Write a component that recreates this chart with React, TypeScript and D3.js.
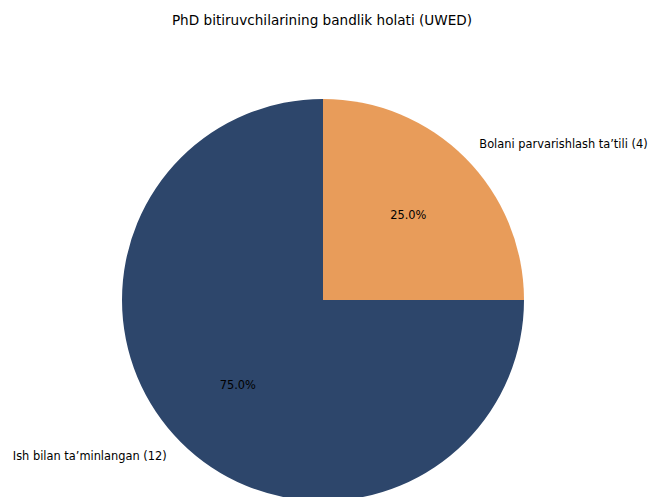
import React from "react";
import * as d3 from "d3";

const categories = ["Bolani parvarishlash taʼtili", "Ish bilan taʼminlangan"];
const values = [4, 12];
const colors = ["#E89C5A", "#2D466B"];
const title = "PhD bitiruvchilarining bandlik holati (UWED)";

const W = 649;
const H = 497;
const cx = 323;
const cy = 300;
const r = 201;

export default function App() {
  const data = categories.map((c, i) => ({ c, v: values[i], col: colors[i] }));
  const total = d3.sum(values);
  const pie = d3
    .pie<{ c: string; v: number; col: string }>()
    .value((d) => d.v)
    .sort(null)
    .startAngle(0)
    .endAngle(2 * Math.PI);
  const arcs = pie(data);
  const arc = d3.arc<d3.PieArcDatum<any>>().innerRadius(0).outerRadius(r);
  const font = "'DejaVu Sans', sans-serif";
  const fs = 11.4;
  return (
    <svg
      width={W}
      height={H}
      style={{ position: "absolute", left: 0, top: 0, background: "#fff" }}
    >
      <text x={322} y={25} textAnchor="middle" fontFamily={font} fontSize={13.6} fill="#000">
        {title}
      </text>
      <g transform={`translate(${cx},${cy})`}>
        {arcs.map((a, i) => (
          <path key={i} d={arc(a) as string} fill={a.data.col} />
        ))}
        {arcs.map((a, i) => {
          const mid = (a.startAngle + a.endAngle) / 2;
          const lx = Math.sin(mid) * r * 1.1;
          const ly = -Math.cos(mid) * r * 1.1;
          const px = Math.sin(mid) * r * 0.6;
          const py = -Math.cos(mid) * r * 0.6;
          return (
            <g key={"l" + i}>
              <text
                x={lx}
                y={ly}
                dy="0.35em"
                textAnchor={lx >= 0 ? "start" : "end"}
                fontFamily={font}
                fontSize={fs}
                fill="#000"
              >
                {`${a.data.c} (${a.data.v})`}
              </text>
              <text
                x={px}
                y={py}
                dy="0.35em"
                textAnchor="middle"
                fontFamily={font}
                fontSize={fs}
                fill="#000"
              >
                {`${((a.data.v / total) * 100).toFixed(1)}%`}
              </text>
            </g>
          );
        })}
      </g>
    </svg>
  );
}
